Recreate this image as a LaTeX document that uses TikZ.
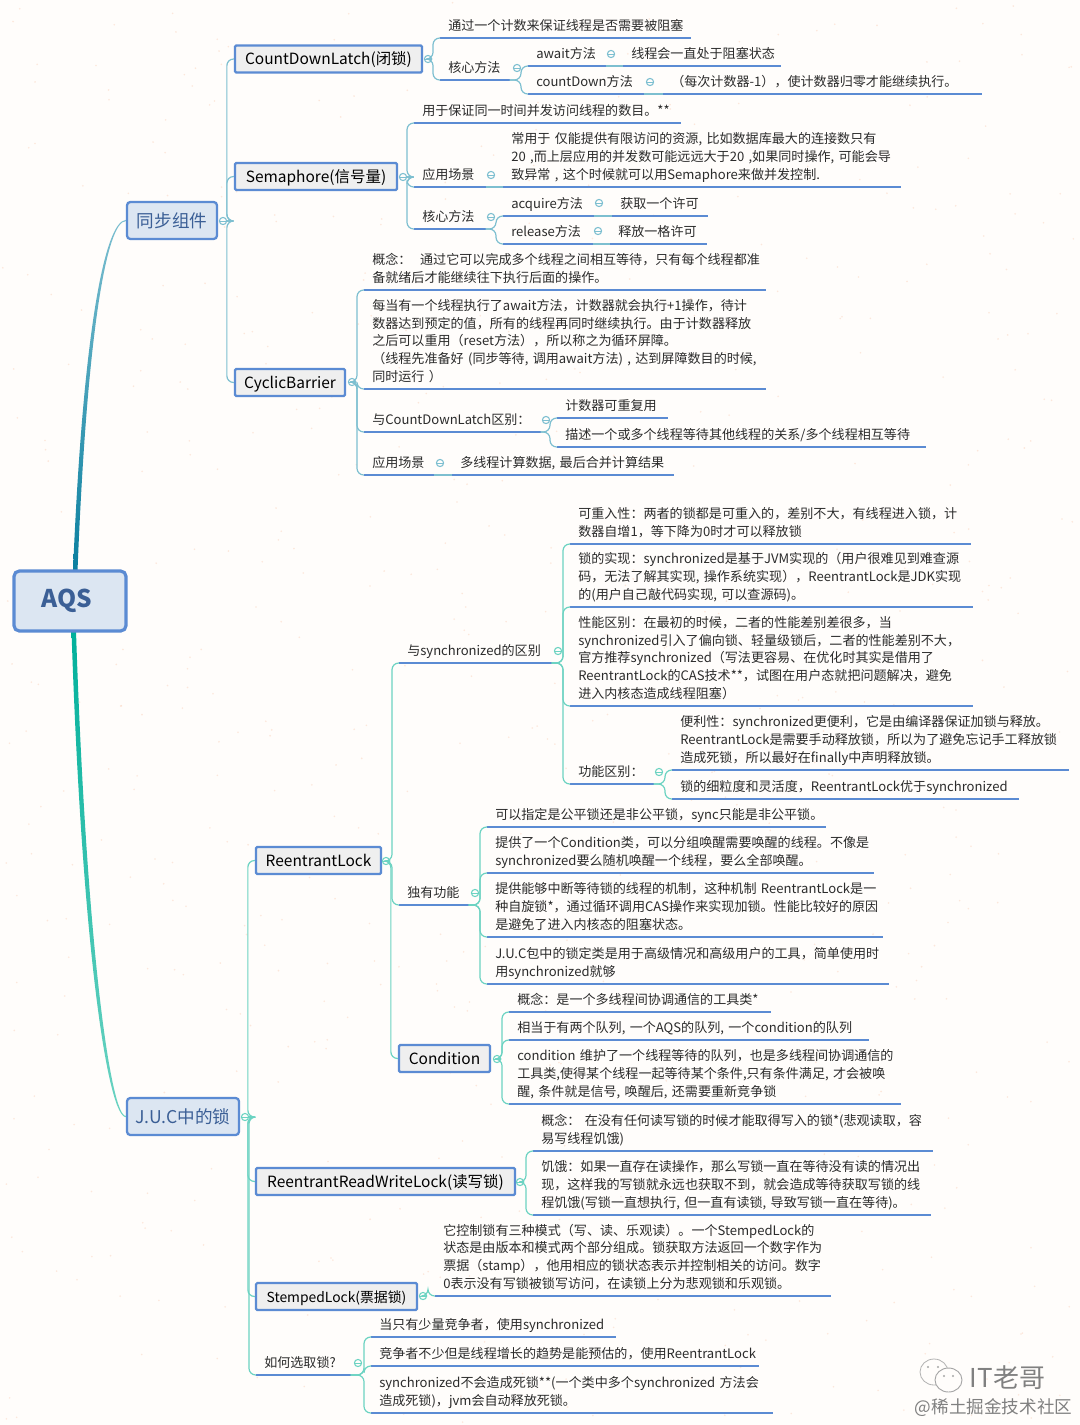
\documentclass[tikz,border=0pt]{standalone}
\usepackage{fontspec}
\setmainfont{Noto Sans CJK SC}
\usepackage{xcolor}
\usetikzlibrary{calc}
\definecolor{bgpaper}{HTML}{FFFDFB}
\definecolor{speck}{HTML}{F9BFA0}
\definecolor{rim}{HTML}{5B8BD3}
\definecolor{pale}{HTML}{DCE6F2}
\definecolor{ink}{HTML}{3B5F96}
\definecolor{greybox}{HTML}{EFEFEF}
\definecolor{linktop}{HTML}{7DBFD0}
\definecolor{linklow}{HTML}{6CD3C2}
\definecolor{branchtop}{HTML}{0A7F9F}
\definecolor{branchlow}{HTML}{00B09B}
\definecolor{word}{HTML}{2B2B2B}

\begin{document}
\begin{tikzpicture}[
		x=0.75pt,y=-0.75pt,
		rootbox/.style={
			draw=rim,
			fill=pale,
			line width=2.4pt,
			rounded corners=4pt,
			text=ink,
			inner sep=0pt,
			minimum width=112*0.75pt,
			minimum height=60*0.75pt,
			font=\fontsize{18.3}{22}\selectfont\bfseries
		},
		topicbox/.style={
			draw=rim,
			fill=pale,
			line width=1.7pt,
			rounded corners=2.5pt,
			text=ink,
			inner sep=0pt,
			minimum width=#1*0.75pt,
			minimum height=37*0.75pt,
			font=\fontsize{13.2}{16}\selectfont
		},
		subbox/.style={
			draw=rim,
			fill=greybox,
			line width=1.7pt,
			rounded corners=1pt,
			text=black,
			inner sep=0pt,
			text height=9.6pt,
			text depth=1.2pt,
			minimum width=#1*0.75pt,
			minimum height=27*0.75pt,
			font=\fontsize{11.6}{15}\selectfont
		},
		leaf/.style={
			anchor=south west,
			inner xsep=6pt,
			inner ysep=1.6pt,
			text width=#1*0.75pt-12pt,
			align=left,
			text=word,
			execute at end node=\strut,
			font=\fontsize{9.8}{13.25}\selectfont
		},
		under/.style={draw=rim,line width=1.5pt},
		linkup/.style={draw=linktop,line width=0.9pt,rounded corners=5pt},
		linkdown/.style={draw=linklow,line width=0.9pt,rounded corners=5pt},
		dot/.style={
			circle,
			draw=#1,
			line width=0.8pt,
			fill=bgpaper,
			minimum size=5.4pt,
			inner sep=0pt,
			path picture={\draw[#1,line width=0.6pt] (path picture bounding box.west) -- (path picture bounding box.east);}
		}
		]
		
		% Paper
		\fill[bgpaper] (0,0) rectangle (1080,1425);
		\pgfmathsetseed{11}
		\foreach \i in {1,...,650}
		\fill[speck,opacity=0.35] (rnd*1080,rnd*1425) circle (0.9);
		\useasboundingbox (0,0) rectangle (1080,1425);
		
		% Main boxes
		\node[topicbox=90] (sync) at (172,220.5) {同步组件};
		\node[topicbox=112] (juc) at (183,1116.5) {J.U.C中的锁};
		
		% Main branches
		\shade[top color=linktop,bottom color=branchtop]
		($(sync.west)+(0,-0.6)$) .. controls (105,221) and (83,330) .. (73,571)
		-- (77.5,571) .. controls (87,330) and (107,221) .. ($(sync.west)+(0,0.6)$) -- cycle;
		\shade[top color=branchlow,bottom color=linklow]
		(71.5,631) .. controls (82,950) and (108,1117) .. ($(juc.west)+(0,0.6)$)
		-- ($(juc.west)+(0,-0.6)$) .. controls (111,1117) and (86.5,950) .. (76,631) -- cycle;
		\node[rootbox] (aqs) at (70,601) {\raisebox{-3pt}{\kern-5pt AQS}};
		
		% Second level
		\node[subbox=187] (cdl) at (328.5,59) {CountDownLatch(闭锁)};
		\node[subbox=162] (sem) at (316,176.5) {Semaphore(信号量)};
		\node[subbox=110] (cyc) at (290,382.5) {CyclicBarrier};
		\node[subbox=125] (rel) at (318.5,860.5) {ReentrantLock};
		\node[subbox=91] (cond) at (444.5,1058.5) {Condition};
		\node[subbox=259] (rrw) at (385.5,1181.5) {ReentrantReadWriteLock(读写锁)};
		\node[subbox=161,font=\fontsize{10.4}{15}\selectfont] (stp) at (336.5,1296.5) {StempedLock(票据锁)};
		
		% CountDownLatch
		\node[leaf=250] (cdlA) at (440,38) {通过一个计数来保证线程是否需要被阻塞};
		\node[leaf=69] (cdlB) at (440,80) {核心方法};
		\node[leaf=77] (cdlC) at (528,66) {await方法};
		\node[leaf=157] (cdlD) at (623,66) {线程会一直处于阻塞状态};
		\node[leaf=115] (cdlE) at (528,94) {countDown方法};
		\node[leaf=318] (cdlF) at (663,94) {（每次计数器-1），使计数器归零才能继续执行。};
		
		% Semaphore
		\node[leaf=266] (semA) at (414,123) {用于保证同一时间并发访问线程的数目。**};
		\node[leaf=71] (semB) at (414,187) {应用场景};
		\node[leaf=397] (semC) at (503,187) {常用于 仅能提供有限访问的资源, 比如数据库最大的连接数只有\\20 ,而上层应用的并发数可能远远大于20 ,如果同时操作, 可能会导\\致异常 , 这个时候就可以用Semaphore来做并发控制.};
		\node[leaf=71] (semD) at (414,229) {核心方法};
		\node[leaf=90] (semE) at (503,216) {acquire方法};
		\node[leaf=95] (semF) at (612,216) {获取一个许可};
		\node[leaf=89] (semG) at (503,244) {release方法};
		\node[leaf=96] (semH) at (610,244) {释放一格许可};
		
		% CyclicBarrier
		\node[leaf=401] (cycA) at (364,290) {概念：\ \ 通过它可以完成多个线程之间相互等待，只有每个线程都准\\备就绪后才能继续往下执行后面的操作。};
		\node[leaf=401] (cycB) at (364,389) {每当有一个线程执行了await方法，计数器就会执行+1操作，待计\\数器达到预定的值，所有的线程再同时继续执行。由于计数器释放\\之后可以重用（reset方法），所以称之为循环屏障。\\（线程先准备好 (同步等待, 调用await方法) , 达到屏障数目的时候,\\同时运行 ）};
		\node[leaf=176] (cycC) at (364,432) {与CountDownLatch区别：};
		\node[leaf=110] (cycD) at (557,418) {计数器可重复用};
		\node[leaf=368] (cycE) at (557,447) {描述一个或多个线程等待其他线程的关系/多个线程相互等待};
		\node[leaf=69] (cycF) at (364,475) {应用场景};
		\node[leaf=221] (cycG) at (452,475) {多线程计算数据, 最后合并计算结果};
		
		% ReentrantLock
		\node[leaf=152] (relA) at (399,663) {与synchronized的区别};
		\node[leaf=400] (relB) at (570,544) {可重入性：两者的锁都是可重入的，差别不大，有线程进入锁，计\\数器自增1，等下降为0时才可以释放锁};
		\node[leaf=402] (relC) at (570,607) {锁的实现：synchronized是基于JVM实现的（用户很难见到难查源\\码，无法了解其实现, 操作系统实现），ReentrantLock是JDK实现\\的(用户自己敲代码实现, 可以查源码)。};
		\node[leaf=402] (relD) at (570,706) {性能区别：在最初的时候，二者的性能差别差很多，当\\synchronized引入了偏向锁、轻量级锁后，二者的性能差别不大，\\官方推荐synchronized（写法更容易、在优化时其实是借用了\\ReentrantLock的CAS技术**，试图在用户态就把问题解决，避免\\进入内核态造成线程阻塞）};
		\node[leaf=83] (relE) at (570,784) {功能区别：};
		\node[leaf=396] (relF) at (672,770) {便利性：synchronized更便利，它是由编译器保证加锁与释放。\\ReentrantLock是需要手动释放锁，所以为了避免忘记手工释放锁\\造成死锁，所以最好在finally中声明释放锁。};
		\node[leaf=346] (relG) at (672,799) {锁的细粒度和灵活度，ReentrantLock优于synchronized};
		\node[leaf=69] (relH) at (399,905) {独有功能};
		\node[leaf=338] (relI) at (487,827) {可以指定是公平锁还是非公平锁，sync只能是非公平锁。};
		\node[leaf=386] (relJ) at (487,873) {提供了一个Condition类，可以分组唤醒需要唤醒的线程。不像是\\synchronized要么随机唤醒一个线程，要么全部唤醒。};
		\node[leaf=395] (relK) at (487,937) {\mbox{提供能够中断等待锁的线程的机制，这种机制 ReentrantLock是一}\\种自旋锁*，通过循环调用CAS操作来实现加锁。性能比较好的原因\\是避免了进入内核态的阻塞状态。};
		\node[leaf=401] (relL) at (487,984) {J.U.C包中的锁定类是用于高级情况和高级用户的工具，简单使用时\\用synchronized就够};
		
		% Condition
		\node[leaf=261] (condA) at (509,1012) {概念：是一个多线程间协调通信的工具类*};
		\node[leaf=359] (condB) at (509,1040) {相当于有两个队列, 一个AQS的队列, 一个condition的队列};
		\node[leaf=391] (condC) at (509,1104) {condition 维护了一个线程等待的队列，也是多线程间协调通信的\\工具类,使得某个线程一起等待某个条件,只有条件满足, 才会被唤\\醒, 条件就是信号, 唤醒后, 还需要重新竞争锁};
		
		% ReentrantReadWriteLock
		\node[leaf=399] (rrwA) at (533,1151) {概念：\ 在没有任何读写锁的时候才能取得写入的锁*(悲观读取，容\\易写线程饥饿)};
		\node[leaf=397] (rrwB) at (533,1215) {饥饿：如果一直存在读操作，那么写锁一直在等待没有读的情况出\\现，这样我的写锁就永远也获取不到，就会造成等待获取写锁的线\\程饥饿(写锁一直想执行, 但一直有读锁, 导致写锁一直在等待)。};
		
		% StempedLock
		\node[leaf=395] (stpA) at (435,1296) {它控制锁有三种模式（写、读、乐观读）。一个StempedLock的\\状态是由版本和模式两个部分组成。锁获取方法返回一个数字作为\\票据（stamp），他用相应的锁状态表示并控制相关的访问。数字\\0表示没有写锁被锁写访问，在读锁上分为悲观锁和乐观锁。};
		
		% Choosing
		\node[leaf=94] (pick) at (256,1375) {如何选取锁?};
		\node[leaf=244] (pickA) at (371,1337) {当只有少量竞争者，使用synchronized};
		\node[leaf=387] (pickB) at (371,1366) {竞争者不少但是线程增长的趋势是能预估的，使用ReentrantLock};
		\node[leaf=401] (pickC) at (371,1413) {synchronized不会造成死锁**(一个类中多个synchronized 方法会\\造成死锁)，jvm会自动释放死锁。};
		
		% Underlines
		\foreach \n in {cdlA,cdlB,cdlC,cdlD,cdlE,cdlF,semA,semB,semC,semD,semE,semF,semG,semH,
			cycA,cycB,cycC,cycD,cycE,cycF,cycG,relA,relB,relC,relD,relE,relF,relG,relH,relI,relJ,relK,relL,
			condA,condB,condC,rrwA,rrwB,stpA,pick,pickA,pickB,pickC}
		\draw[under] (\n.south west) -- (\n.south east);
		
		% Collapse dots
		\foreach \n/\p in {syncD/{223,221},cdlD1/{428,59},cdlD2/{517,68},cdlD3/{611,54},cdlD4/{650,82},
			semD1/{403,177},semD2/{491,175},semD3/{491,217},semD4/{599,203},semD5/{598,231},
			cycD1/{352,382},cycD2/{546,420},cycD3/{440,463}}
		\node[dot=linktop] (\n) at (\p) {};
		\foreach \n/\p in {jucD/{245,1117},relD1/{386,861},relD2/{558,651},relD3/{659,772},relD4/{475,893},
			condD1/{497,1059},rrwD1/{520,1182},stpD1/{423,1296},pickD1/{358,1363}}
		\node[dot=linklow] (\n) at (\p) {};
		
		% Connections
		\foreach \a/\b in {syncD.east/cdl.west,syncD.east/sem.west,syncD.east/cyc.west,
			cdlD1.east/cdlA.south west,cdlD1.east/cdlB.south west,cdlB.south east/cdlC.south west,cdlB.south east/cdlE.south west,
			semD1.east/semA.south west,semD1.east/semB.south west,semD1.east/semD.south west,
			semD.south east/semE.south west,semD.south east/semG.south west,
			cycD1.east/cycA.south west,cycD1.east/cycB.south west,cycD1.east/cycC.south west,cycD1.east/cycF.south west,
			cycC.south east/cycD.south west,cycC.south east/cycE.south west}
		\draw[linkup] (\a) -| ($(\b)+(-7,0)$) -- (\b);
		\foreach \a/\b in {cdlC.south east/cdlD.south west,cdlE.south east/cdlF.south west,semB.south east/semC.south west,
			semE.south east/semF.south west,semG.south east/semH.south west,cycF.south east/cycG.south west}
		\draw[linkup] (\a) -- (\b);
		\foreach \a/\b in {jucD.east/rel.west,jucD.east/rrw.west,jucD.east/stp.west,jucD.east/pick.south west,
			relD1.east/relA.south west,relD1.east/relH.south west,relD1.east/cond.west,
			relA.south east/relB.south west,relA.south east/relC.south west,relA.south east/relD.south west,relA.south east/relE.south west,
			relE.south east/relF.south west,relE.south east/relG.south west,
			relH.south east/relI.south west,relH.south east/relJ.south west,relH.south east/relK.south west,relH.south east/relL.south west,
			condD1.east/condA.south west,condD1.east/condB.south west,condD1.east/condC.south west,
			rrwD1.east/rrwA.south west,rrwD1.east/rrwB.south west,stpD1.east/stpA.south west,
			pick.south east/pickA.south west,pick.south east/pickB.south west,pick.south east/pickC.south west}
		\draw[linkdown] (\a) -| ($(\b)+(-7,0)$) -- (\b);
		
		% Watermark
		\draw[gray!60,line width=0.6pt] (934,1372) ellipse (14 and 13);
		\draw[gray!70,line width=0.7pt,fill=bgpaper] (948.5,1380) ellipse (13.5 and 12);
		\foreach \p in {{928,1367},{938,1367},{944,1376},{953,1376}}
		\fill[gray!70] (\p) circle (1.2);
		\node[text=gray,font=\fontsize{19.5}{22}\selectfont] (mark) at (1007.5,1378) {IT老哥};
		\node[text=gray,font=\fontsize{13.2}{15}\selectfont] (site) at (993.5,1408) {@稀土掘金技术社区};
		
	\end{tikzpicture}
\end{document}
